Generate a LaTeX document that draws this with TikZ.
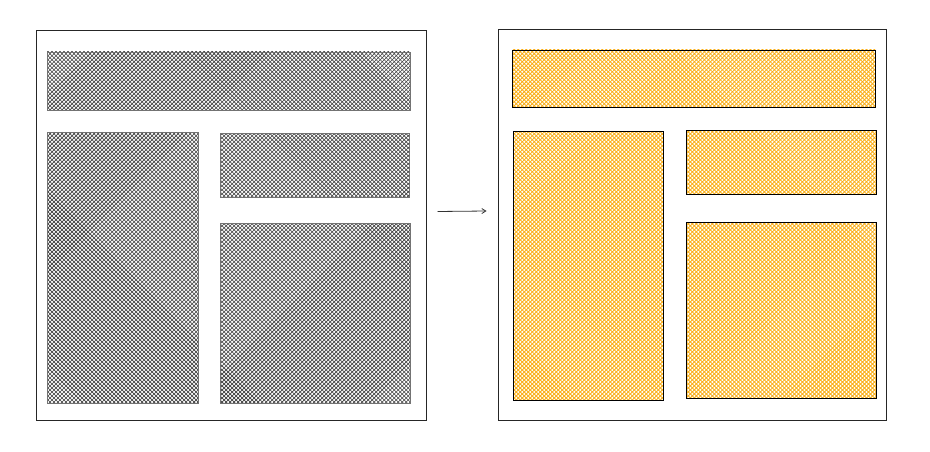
\documentclass[tikz,border=0pt]{standalone}
\usetikzlibrary{patterns.meta,arrows.meta}
\definecolor{hatchorange}{HTML}{FAAE16}

\begin{document}
\begin{tikzpicture}[
  x=1pt,y=-1pt,
  frame/.style={draw=black!85,line width=1pt,inner sep=0pt},
  greybox/.style={draw=black!55,line width=0.5pt,inner sep=0pt,
                  preaction={pattern={Lines[angle=45,distance=2.83pt,line width=0.6pt]},pattern color=black!75},
                  pattern={Lines[angle=-45,distance=2.83pt,line width=0.6pt]},pattern color=black!75},
  orangebox/.style={draw=black,line width=0.7pt,inner sep=0pt,
                  preaction={pattern={Lines[angle=45,distance=2.83pt,line width=0.85pt]},pattern color=hatchorange},
                  pattern={Lines[angle=-45,distance=2.83pt,line width=0.85pt]},pattern color=hatchorange},
  conn/.style={-{Straight Barb[length=4pt,width=5pt]},draw=black!80,line width=0.8pt},
]
\useasboundingbox (0,0) rectangle (930,452);

% before
\node[frame,minimum width=390pt,minimum height=389pt] (lframe) at (231,225.5) {};
\node[greybox,minimum width=363pt,minimum height=58pt]  (lbanner) at (228.5,81) {};
\node[greybox,minimum width=151pt,minimum height=271pt] (lside)   at (122.5,267.5) {};
\node[greybox,minimum width=189pt,minimum height=64pt]  (ltop)    at (314.5,165) {};
\node[greybox,minimum width=190pt,minimum height=180pt] (lmain)   at (315,313) {};

% after
\node[frame,minimum width=388pt,minimum height=390pt] (rframe) at (692,225) {};
\node[orangebox,minimum width=363pt,minimum height=57pt]  (rbanner) at (693.5,78.5) {};
\node[orangebox,minimum width=150pt,minimum height=269pt] (rside)   at (588,265.5) {};
\node[orangebox,minimum width=190pt,minimum height=64pt]  (rtop)    at (781,162) {};
\node[orangebox,minimum width=190pt,minimum height=176pt] (rmain)   at (781,310) {};

\draw[conn] ([xshift=11pt,yshift=14pt]lframe.east) -- ([xshift=-11pt,yshift=14pt]rframe.west);

\end{tikzpicture}
\end{document}
